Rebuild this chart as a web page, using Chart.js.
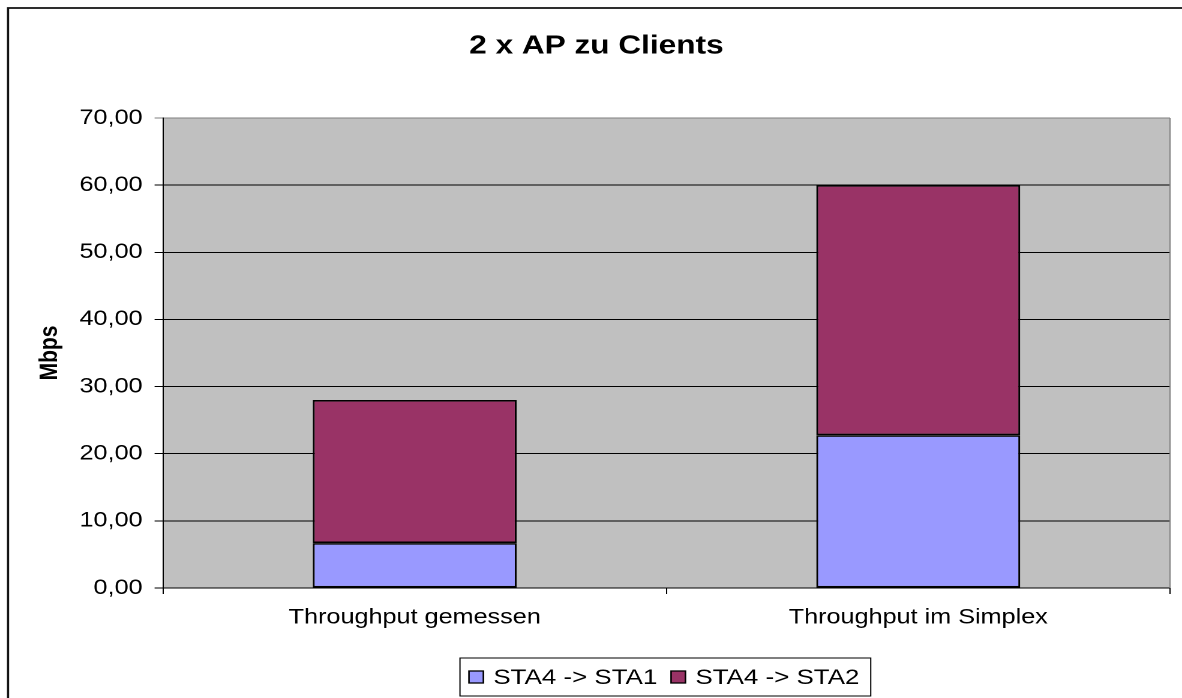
<!DOCTYPE html>
<html><head><meta charset="utf-8">
<script src="https://cdn.jsdelivr.net/npm/chart.js@4"></script>
<style>
html,body{margin:0;padding:0;background:#fff;overflow:hidden;}
#wrap{width:1182px;height:698px;overflow:hidden;position:relative;background:#fff;}
canvas{position:absolute;left:0;top:0;transform:scaleX(1.2);transform-origin:0 0;}
</style></head><body>
<div id="wrap"><canvas id="c" width="985" height="698"></canvas></div>
<script>
const chartTitle = '2 x AP zu Clients';
const yAxisTitle = 'Mbps';
const categories = ['Throughput gemessen', 'Throughput im Simplex'];
const seriesNames = ['STA4 -> STA1', 'STA4 -> STA2'];
const sta1Values = [6.68, 22.75];
const sta2Values = [21.32, 37.25];
const yTickLabels = ['0,00', '10,00', '20,00', '30,00', '40,00', '50,00', '60,00', '70,00'];
const seriesColors = ['#9999FF', '#993366'];

const FONT = "'Liberation Sans', Arial, sans-serif";

const decor = {
  id: 'decor',
  beforeDraw(chart) {
    const ctx = chart.ctx, a = chart.chartArea;
    ctx.save();
    ctx.fillStyle = '#ffffff';
    ctx.fillRect(0, 0, chart.width, chart.height);
    ctx.fillStyle = '#C0C0C0';
    ctx.fillRect(a.left, a.top, a.right - a.left, a.bottom - a.top);
    ctx.strokeStyle = '#111';
    ctx.lineWidth = 1.8;
    ctx.beginPath();
    ctx.moveTo(6.7, chart.height + 2);
    ctx.lineTo(6.7, 8);
    ctx.lineTo(chart.width + 2, 8);
    ctx.stroke();
    ctx.restore();
  },
  afterDraw(chart) {
    const ctx = chart.ctx, a = chart.chartArea;
    ctx.save();
    ctx.strokeStyle = '#808080';
    ctx.lineWidth = 1;
    ctx.beginPath();
    ctx.moveTo(a.right, a.top);
    ctx.lineTo(a.right, a.bottom);
    ctx.stroke();
    ctx.fillStyle = '#000';
    ctx.font = "bold 26.3px " + FONT;
    ctx.textAlign = 'center';
    ctx.textBaseline = 'middle';
    ctx.fillText(chartTitle, 497, 46);
    ctx.font = "21.6px " + FONT;
    ctx.textAlign = 'left';
    const boxL = 383.3, boxT = 658, boxB = 696;
    const cy = (boxT + boxB) / 2;
    let x = boxL + 7.5;
    const ds = chart.data.datasets;
    const items = [];
    ds.forEach((d, i) => {
      items.push({x, label: d.label, color: d.backgroundColor});
      x += 12 + 8.3 + ctx.measureText(d.label).width;
      if (i < ds.length - 1) x += 11.5;
    });
    const boxR = x + 9.5;
    ctx.fillStyle = '#fff';
    ctx.fillRect(boxL, boxT, boxR - boxL, boxB - boxT);
    ctx.strokeStyle = '#000';
    ctx.lineWidth = 1;
    ctx.strokeRect(boxL, boxT, boxR - boxL, boxB - boxT);
    items.forEach(it => {
      ctx.fillStyle = it.color;
      ctx.fillRect(it.x, cy - 6, 12, 12);
      ctx.strokeStyle = '#000';
      ctx.lineWidth = 1.3;
      ctx.strokeRect(it.x, cy - 6, 12, 12);
      ctx.fillStyle = '#000';
      ctx.fillText(it.label, it.x + 12 + 8.3, cy + 1);
    });
    ctx.restore();
  }
};

new Chart(document.getElementById('c'), {
  type: 'bar',
  data: {
    labels: categories,
    datasets: [
      {label: seriesNames[0], data: sta1Values, backgroundColor: seriesColors[0], borderColor: '#000', borderWidth: 1.6, borderSkipped: false},
      {label: seriesNames[1], data: sta2Values, backgroundColor: seriesColors[1], borderColor: '#000', borderWidth: 1.6, borderSkipped: false}
    ]
  },
  options: {
    responsive: false,
    animation: false,
    devicePixelRatio: 2,
    layout: {padding: {left: 0, top: 118, right: 10, bottom: 0}},
    plugins: {legend: {display: false}, title: {display: false}, tooltip: {enabled: false}},
    datasets: {bar: {categoryPercentage: 1, barPercentage: 0.405}},
    scales: {
      x: {
        stacked: true,
        offset: true,
        grid: {offset: true, drawOnChartArea: false, drawTicks: true, tickLength: 6, color: '#000', lineWidth: 1},
        border: {display: true, color: '#000', width: 1},
        ticks: {color: '#000', font: {family: FONT, size: 21}, padding: 11, maxRotation: 0, autoSkip: false},
        afterFit(s) { s.height = 110; }
      },
      y: {
        stacked: true,
        min: 0, max: 70,
        ticks: {stepSize: 10, color: '#000', font: {family: FONT, size: 21}, padding: 10,
          callback: (v, i) => yTickLabels[i]},
        grid: {drawTicks: true, tickLength: 7, lineWidth: 1,
          color: (c) => (c.tick && c.tick.value === 70) ? '#808080' : '#000'},
        border: {display: true, color: '#000', width: 1},
        title: {display: true, text: yAxisTitle, color: '#000', font: {family: FONT, size: 21, weight: 'bold'}, padding: {top: 29, bottom: 0}},
        afterFit(s) { s.width = 135.8; }
      }
    }
  },
  plugins: [decor]
});
</script>
</body></html>
